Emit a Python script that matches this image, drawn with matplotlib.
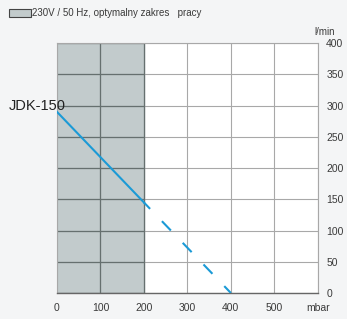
import matplotlib.pyplot as plt
import matplotlib.patches as mpatches

# data
pressure_solid = [0, 200]
flow_solid = [290, 145]
pressure_dashed = [200, 400]
flow_dashed = [145, 0]
x_ticks = [0, 100, 200, 300, 400, 500, 600]
x_labels = ['0', '100', '200', '300', '400', '500', 'mbar']
y_ticks = [0, 50, 100, 150, 200, 250, 300, 350, 400]
optimal_range = [0, 200]

plt.rcParams['font.family'] = ['Liberation Sans', 'DejaVu Sans']

fig = plt.figure(figsize=(3.47, 3.19), dpi=100)
fig.patch.set_facecolor('#f4f5f6')
ax = fig.add_axes([0.164, 0.0815, 0.752, 0.7835])
ax.set_facecolor('white')

# shaded optimal range with its own darker grid
ax.axvspan(optimal_range[0], optimal_range[1], color='#c2cbcc', zorder=0)
ax.grid(True, color='#a8a8a8', linewidth=0.8, zorder=1)
ax.hlines(y_ticks, optimal_range[0], optimal_range[1], color='#66706f',
          linewidth=0.9, zorder=2)
ax.vlines([t for t in x_ticks if 0 < t <= optimal_range[1]], 0, 400,
          color='#66706f', linewidth=0.9, zorder=2)

line_color = '#1b9ad6'
ax.plot(pressure_solid, flow_solid, color=line_color, linewidth=1.5, zorder=3)
ax.plot(pressure_dashed, flow_dashed, color=line_color, linewidth=1.5,
        linestyle=(1.9, (6.2, 8.2)), zorder=3)

ax.set_xlim(0, 600)
ax.set_ylim(0, 400)
ax.set_xticks(x_ticks)
ax.set_xticklabels(x_labels)
ax.set_yticks(y_ticks)
ax.yaxis.tick_right()
ax.tick_params(length=0, labelsize=7.5, colors='#3a3a3a')
ax.tick_params(axis='x', pad=7)
ax.tick_params(axis='y', pad=6)

for s in ['left', 'top', 'right']:
    ax.spines[s].set_color('#a8a8a8')
    ax.spines[s].set_linewidth(0.8)
ax.spines['bottom'].set_color('#666666')
ax.spines['bottom'].set_linewidth(1.0)

ax.text(1.025, 1.025, 'l/min', transform=ax.transAxes, fontsize=7,
        ha='center', va='bottom', color='#3a3a3a')
fig.text(0.025, 0.668, 'JDK-150', fontsize=10.5, ha='left', va='center',
         color='#222222')

# legend swatch
fig.patches.append(mpatches.Rectangle((0.025, 0.948), 0.063, 0.025,
                                      transform=fig.transFigure,
                                      facecolor='#c2cbcc', edgecolor='#444444',
                                      linewidth=0.8))
fig.text(0.092, 0.96, '230V / 50 Hz, optymalny zakres   pracy', fontsize=7,
         ha='left', va='center', color='#3a3a3a')

fig.savefig('out.png', dpi=100, facecolor=fig.get_facecolor())
